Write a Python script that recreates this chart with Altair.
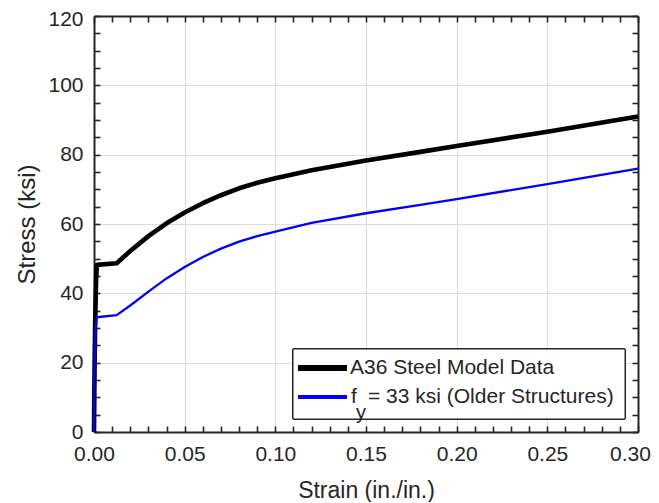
import altair as alt
import pandas as pd

# ---- data ----
strain_a36 = [0.0, 0.0003, 0.0006, 0.0009, 0.0012, 0.0016, 0.0125, 0.02, 0.03, 0.04, 0.05,
              0.06, 0.07, 0.08, 0.09, 0.10, 0.12, 0.15, 0.18, 0.20, 0.25, 0.30]
stress_a36 = [0.0, 18.0, 30.0, 38.0, 44.5, 48.2, 48.7, 52.2, 56.5, 60.2, 63.3,
              66.0, 68.3, 70.3, 71.9, 73.2, 75.5, 78.3, 80.8, 82.5, 86.6, 91.0]

strain_fy = [0.0, 0.0002, 0.0005, 0.0009, 0.0015, 0.0125, 0.02, 0.03, 0.04, 0.05,
             0.06, 0.07, 0.08, 0.09, 0.10, 0.12, 0.15, 0.18, 0.20, 0.25, 0.30]
stress_fy = [0.0, 16.0, 24.0, 30.0, 33.1, 33.7, 36.5, 40.5, 44.3, 47.6,
             50.5, 52.9, 54.9, 56.5, 57.8, 60.3, 63.1, 65.5, 67.2, 71.5, 76.0]

x_major = [0.0, 0.05, 0.10, 0.15, 0.20, 0.25, 0.30]
x_minor = [round(i * 0.01, 2) for i in range(31)]
y_major = [0, 20, 40, 60, 80, 100, 120]
y_minor = [i * 5 for i in range(25)]

label_a36 = "A36 Steel Model Data"
label_fy_main = "f"
label_fy_sub = "y"
label_fy_rest = "= 33 ksi (Older Structures)"

df_a36 = pd.DataFrame({"strain": strain_a36, "stress": stress_a36})
df_fy = pd.DataFrame({"strain": strain_fy, "stress": stress_fy})

FONT = "Liberation Sans"
INK = "#262626"
W, H = 544, 416

xs = alt.Scale(domain=[0, 0.30], nice=False, zero=False)
ys = alt.Scale(domain=[0, 120], nice=False, zero=False)

def xenc(axis):
    return alt.X("strain:Q", scale=xs, axis=axis)

def yenc(axis):
    return alt.Y("stress:Q", scale=ys, axis=axis)

ax_bottom = alt.Axis(orient="bottom", values=x_major, format=".2f", title="Strain (in./in.)",
                     grid=True, gridColor="#dcdcdc", gridWidth=1, ticks=False, tickSize=0,
                     domain=True, domainColor=INK, domainWidth=2,
                     labelFont=FONT, labelFontSize=21, labelColor=INK, labelPadding=11,
                     labelFlush=False, labelOverlap=False,
                     labelOffset={"condition": {"test": "datum.value >= 0.299", "value": -8}, "value": 0},
                     titleFont=FONT, titleFontSize=23, titleFontWeight="normal", titleColor=INK,
                     titlePadding=15)
ax_left = alt.Axis(orient="left", values=y_major, format="d", title="Stress (ksi)",
                   grid=True, gridColor="#dcdcdc", gridWidth=1, ticks=False, tickSize=0,
                   domain=True, domainColor=INK, domainWidth=2,
                   labelFont=FONT, labelFontSize=21, labelColor=INK, labelPadding=11,
                   labelFlush=False, labelOverlap=False,
                   labelOffset={"condition": {"test": "datum.value >= 119", "value": 3}, "value": 0},
                   titleFont=FONT, titleFontSize=24, titleFontWeight="normal", titleColor=INK,
                   titlePadding=8)

black = alt.Chart(df_a36).mark_line(color="black", strokeWidth=4.6, strokeJoin="round").encode(
    x=xenc(ax_bottom), y=yenc(ax_left))

ax_top = alt.Axis(orient="top", labels=False, ticks=False, grid=False, title=None,
                  domain=True, domainColor=INK, domainWidth=2)
ax_right = alt.Axis(orient="right", labels=False, ticks=False, grid=False, title=None,
                    domain=True, domainColor=INK, domainWidth=2)
blue = alt.Chart(df_fy).mark_line(color="#0000ff", strokeWidth=2.3, strokeJoin="round").encode(
    x=xenc(ax_top), y=yenc(ax_right))

def tick_axis(orient, vals):
    return alt.Axis(orient=orient, values=vals, labels=False, grid=False, title=None,
                    domain=False, ticks=True, tickSize=6, offset=-6,
                    tickColor=INK, tickWidth=1.6)

ticks_bl = alt.Chart(df_fy).mark_line(opacity=0).encode(
    x=xenc(tick_axis("bottom", x_minor)), y=yenc(tick_axis("left", y_minor)))
ticks_tr = alt.Chart(df_fy).mark_line(opacity=0).encode(
    x=xenc(tick_axis("top", x_minor)), y=yenc(tick_axis("right", y_minor)))

# ---- legend box (pixel offsets inside the plot area) ----
leg_box = alt.Chart(df_fy).mark_rect(fill="white", stroke=INK, strokeWidth=1).encode(
    x=alt.value(199), x2=alt.value(531), y=alt.value(333), y2=alt.value(403))
leg_black = alt.Chart(df_fy).mark_rule(color="black", strokeWidth=4.6).encode(
    x=alt.value(204), x2=alt.value(253), y=alt.value(352))
leg_blue = alt.Chart(df_fy).mark_rule(color="#0000ff", strokeWidth=2.3).encode(
    x=alt.value(204), x2=alt.value(253), y=alt.value(381))

def leg_text(txt, x, y, size=21):
    return alt.Chart(pd.DataFrame({"t": [txt]})).mark_text(
        align="left", baseline="middle", font=FONT, fontSize=size, color=INK).encode(
        text="t:N", x=alt.value(x), y=alt.value(y))

t1 = leg_text(label_a36, 256, 352)
t2 = leg_text(label_fy_main, 257, 381)
t3 = leg_text(label_fy_sub, 262, 397, size=20)
t4 = leg_text(label_fy_rest, 274, 381)

chart = alt.layer(ticks_bl, ticks_tr, black, blue, leg_box, leg_black, leg_blue, t1, t2, t3, t4).resolve_axis(
    x="independent", y="independent"
).properties(
    width=W, height=H,
    autosize=alt.AutoSizeParams(type="none"),
    padding={"left": 86, "top": 8, "right": 13, "bottom": 70},
    background="white",
).configure_view(stroke=None)

chart.save("out.html", embed_options={"renderer": "svg", "actions": False})
